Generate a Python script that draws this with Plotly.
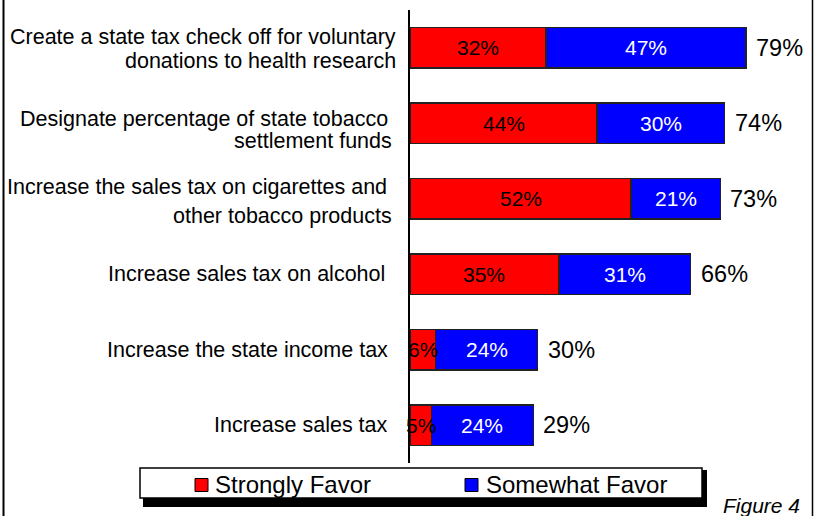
import plotly.graph_objects as go

# Survey results: support for ways of funding health research
categories = [
    "Create a state tax check off for voluntary<br>donations to health research",
    "Designate percentage of state tobacco<br>settlement funds",
    "Increase the sales tax on cigarettes and<br>other tobacco products",
    "Increase sales tax on alcohol",
    "Increase the state income tax",
    "Increase sales tax",
]
strongly_favor = [32, 44, 52, 35, 6, 5]
somewhat_favor = [47, 30, 21, 31, 24, 24]
totals = [79, 74, 73, 66, 30, 29]
series_names = ["Strongly Favor", "Somewhat Favor"]

RED = "#FF0000"
BLUE = "#0000FF"
FONT = "Liberation Sans, Arial, sans-serif"

W, H = 818, 516
L, R, T, B = 410, 28, 10, 53
PW, PH = W - L - R, H - T - B
PX_PER_PCT = 4.25
X_MAX = PW / PX_PER_PCT


def px_x(p):
    return (p - L) / PW


def px_y(p):
    return (H - B - p) / PH


fig = go.Figure()
fig.add_trace(go.Bar(
    y=categories, x=strongly_favor, orientation="h", name=series_names[0],
    marker=dict(color=RED, line=dict(color="#222222", width=1.5)),
))
fig.add_trace(go.Bar(
    y=categories, x=somewhat_favor, orientation="h", name=series_names[1],
    marker=dict(color=BLUE, line=dict(color="#222222", width=1.5)),
))

annotations = []

# segment labels and totals
for cat, s, m, t in zip(categories, strongly_favor, somewhat_favor, totals):
    annotations.append(dict(x=s / 2, y=cat, xref="x", yref="y", text=f"{s}%",
                            showarrow=False, font=dict(family=FONT, size=21, color="black")))
    annotations.append(dict(x=s + m / 2, y=cat, xref="x", yref="y", text=f"{m}%",
                            showarrow=False, font=dict(family=FONT, size=21, color="white")))
    annotations.append(dict(x=s + m, y=cat, xref="x", yref="y", text=f"{t}%",
                            xanchor="left", xshift=8, showarrow=False,
                            font=dict(family=FONT, size=23.5, color="black")))

# category labels, one annotation per text line
line_offsets = [[-11, 13], [-4.5, 17.5], [-12, 17], [0], [0], [0]]
line_right = [[396, 396], [388, 392], [387, 392], [385], [388], [388]]
for cat, offs, rights in zip(categories, line_offsets, line_right):
    for line, dy, rx in zip(cat.split("<br>"), offs, rights):
        annotations.append(dict(x=0, y=cat, xref="x", yref="y", text=line,
                                xanchor="right", yanchor="middle",
                                xshift=rx + 2 - L, yshift=-dy, showarrow=False,
                                font=dict(family=FONT, size=21.5, color="black")))

# legend text
legend_text_x = [215, 486]
for name, lx in zip(series_names, legend_text_x):
    annotations.append(dict(x=px_x(lx - 2), y=px_y(484), xref="paper", yref="paper",
                            text=name, xanchor="left", yanchor="middle", showarrow=False,
                            font=dict(family=FONT, size=24, color="black")))

annotations.append(dict(x=px_x(721), y=px_y(505), xref="paper", yref="paper",
                        text="<i>Figure 4</i>", xanchor="left", yanchor="middle",
                        showarrow=False, font=dict(family=FONT, size=21, color="black")))

shapes = [
    # outer frame sides
    dict(type="line", xref="paper", yref="paper", x0=px_x(3.5), x1=px_x(3.5),
         y0=px_y(0), y1=px_y(H), line=dict(color="black", width=2)),
    dict(type="line", xref="paper", yref="paper", x0=px_x(812.5), x1=px_x(812.5),
         y0=px_y(0), y1=px_y(H), line=dict(color="black", width=1.5)),
    # legend shadow and box
    dict(type="rect", xref="paper", yref="paper", x0=px_x(143), x1=px_x(707),
         y0=px_y(470), y1=px_y(507), fillcolor="black", line=dict(width=0)),
    dict(type="rect", xref="paper", yref="paper", x0=px_x(140), x1=px_x(702),
         y0=px_y(468), y1=px_y(498), fillcolor="white", line=dict(color="black", width=1.5)),
    # legend swatches
    dict(type="rect", xref="paper", yref="paper", x0=px_x(195), x1=px_x(208),
         y0=px_y(478.5), y1=px_y(491.5), fillcolor=RED, line=dict(color="black", width=1)),
    dict(type="rect", xref="paper", yref="paper", x0=px_x(465), x1=px_x(478),
         y0=px_y(478.5), y1=px_y(491.5), fillcolor=BLUE, line=dict(color="black", width=1)),
]

fig.update_layout(
    width=W, height=H,
    margin=dict(l=L, r=R, t=T, b=B, pad=0),
    paper_bgcolor="white", plot_bgcolor="white",
    barmode="stack", bargap=0.46,
    showlegend=False,
    xaxis=dict(range=[0, X_MAX], visible=False, fixedrange=True),
    yaxis=dict(autorange="reversed", showticklabels=False, ticks="",
               showgrid=False, zeroline=False, showline=True,
               linecolor="black", linewidth=2, fixedrange=True),
    annotations=annotations,
    shapes=shapes,
    font=dict(family=FONT, color="black"),
)

fig.write_html("out.html")
